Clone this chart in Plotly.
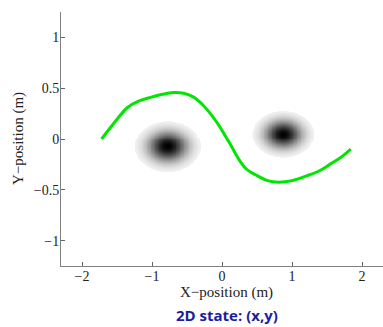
import numpy as np
import plotly.graph_objects as go

# Trajectory
traj_x = [-1.72, -1.55, -1.35, -1.2, -1.02, -0.85, -0.69, -0.55, -0.40, -0.28, -0.16, -0.06, 0.03, 0.10, 0.17, 0.25, 0.34, 0.42, 0.50, 0.65, 0.81, 1.0, 1.22, 1.40, 1.55, 1.70, 1.84]
traj_y = [0.0, 0.15, 0.31, 0.37, 0.41, 0.44, 0.457, 0.45, 0.41, 0.34, 0.245, 0.15, 0.05, -0.03, -0.115, -0.21, -0.29, -0.33, -0.36, -0.41, -0.425, -0.41, -0.36, -0.31, -0.245, -0.18, -0.10]

# Gaussian blobs (obstacles): centers and radii
blob_cx = [-0.78, 0.87]
blob_cy = [-0.07, 0.05]
blob_rx = [0.47, 0.44]
blob_ry = [0.25, 0.23]

x_ticks = [-2, -1, 0, 1, 2]
y_ticks = [-1, -0.5, 0, 0.5, 1]
x_range = [-2.3, 2.3]
y_range = [-1.25, 1.25]

gx = np.linspace(x_range[0], x_range[1], 400)
gy = np.linspace(y_range[0], y_range[1], 260)
XX, YY = np.meshgrid(gx, gy)
Z = np.zeros_like(XX)
for cx, cy, rx, ry in zip(blob_cx, blob_cy, blob_rx, blob_ry):
    r2 = ((XX - cx) / rx) ** 2 + ((YY - cy) / ry) ** 2
    v = np.where(r2 < 1, np.exp(-3.0 * r2), 0.0)
    Z = np.maximum(Z, v)

fig = go.Figure()
fig.add_trace(go.Heatmap(x=gx, y=gy, z=Z, zmin=0, zmax=1, zsmooth="best",
                         colorscale=[[0, "#ffffff"], [1, "#000000"]],
                         showscale=False, hoverinfo="skip"))
fig.add_trace(go.Scatter(x=traj_x, y=traj_y, mode="lines",
                         line=dict(color="#00e600", width=3, shape="spline"),
                         showlegend=False))

L, T, B, W, H = 61, 12, 61, 383, 327
PW, PH = W - L, H - T - B


def px(xp):
    return (xp - L) / PW


def py(yp):
    return (H - B - yp) / PH


serif = "Liberation Serif"
fig.update_layout(
    width=W, height=H,
    margin=dict(l=L, r=0, t=T, b=B),
    paper_bgcolor="white", plot_bgcolor="white",
    font=dict(family=serif, size=14, color="#222"),
    xaxis=dict(range=x_range, tickvals=x_ticks, showgrid=False, zeroline=False,
               showline=True, linecolor="#808080", linewidth=1, automargin=False,
               ticks="inside", ticklen=4, tickcolor="#666", ticklabelstandoff=-3),
    yaxis=dict(range=y_range, tickvals=y_ticks, showgrid=False, zeroline=False,
               showline=True, linecolor="#808080", linewidth=1, automargin=False,
               ticks="inside", ticklen=4, tickcolor="#666", ticklabelstandoff=-2),
    annotations=[
        dict(text="X−position (m)", xref="paper", yref="paper", x=px(226), y=py(292),
             xanchor="center", yanchor="middle", showarrow=False,
             font=dict(family=serif, size=15, color="#222")),
        dict(text="Y−position (m)", xref="paper", yref="paper", x=px(18), y=py(139),
             xanchor="center", yanchor="middle", showarrow=False, textangle=-90,
             font=dict(family=serif, size=15, color="#222")),
        dict(text="<b>2D state: (x,y)</b>", xref="paper", yref="paper",
             x=px(227), y=py(315), xanchor="center", yanchor="middle", showarrow=False,
             font=dict(family="Open Sans", size=15, color="#1c1ca0")),
    ],
)

fig.write_html("out.html", config={"displayModeBar": False},
               post_script="document.body.style.margin='0';document.body.style.overflow='hidden';")
